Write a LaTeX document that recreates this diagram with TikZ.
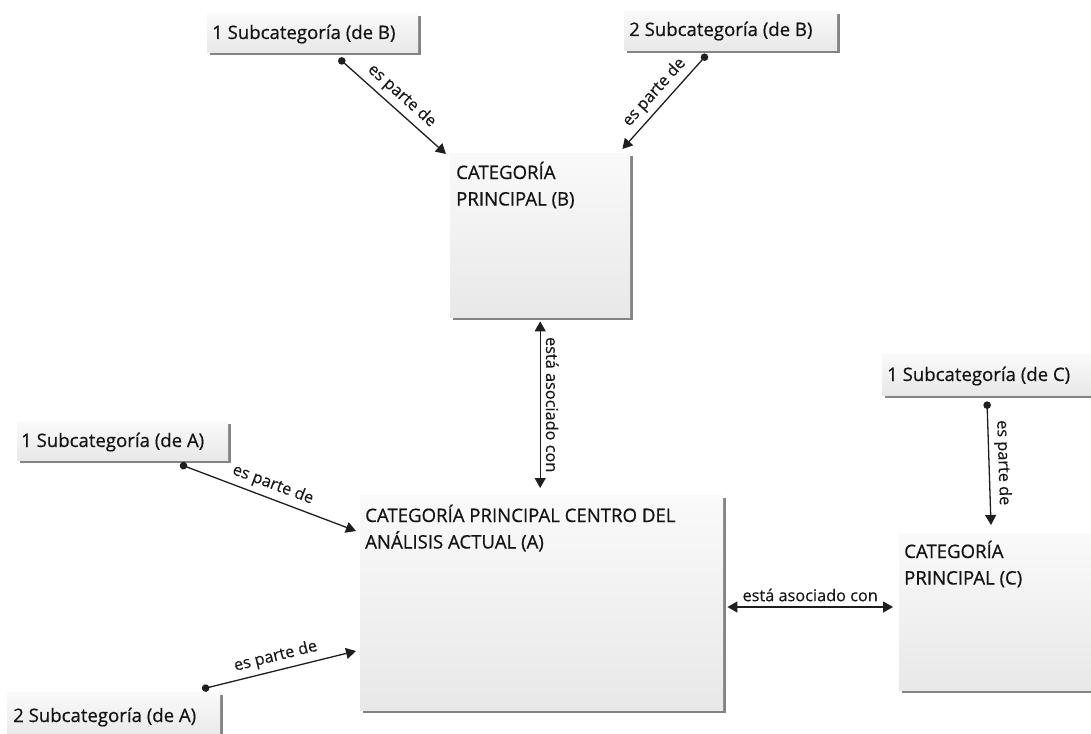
\documentclass[tikz,border=0pt]{standalone}
\usepackage{fontspec}
\setmainfont{Open Sans}
\newfontfamily\heavy{Open Sans}[FakeBold=0.6]
\newfontfamily\lheavy{Open Sans}[FakeBold=0.35]
\usetikzlibrary{arrows.meta,shadows,calc}
\begin{document}
\begin{tikzpicture}[x=1pt,y=-1pt,
 box/.style={rectangle, draw=none, top color=black!2, bottom color=black!9,
   drop shadow={shadow xshift=2.5pt,shadow yshift=-2.5pt,fill=black!60,opacity=0.8},
   inner sep=0pt, anchor=north west},
 subtxt/.style={font=\heavy\fontsize{18.6}{26}\selectfont, text=black!92, anchor=base west, inner sep=0pt},
 maintxt/.style={font=\heavy\fontsize{18.6}{26.5}\selectfont, text=black!92, anchor=base west, inner sep=0pt},
 lbl/.style={font=\lheavy\fontsize{16.3}{20}\selectfont, text=black!90, sloped, above, inner sep=5pt},
 rel/.style={line width=1.3pt, draw=black!88, {Circle[length=7.5pt]}-{Triangle[length=10pt,width=11pt]}},
 assoc/.style={line width=1.3pt, draw=black!88, {Triangle[length=10pt,width=11pt]}-{Triangle[length=10pt,width=11pt]}}]
\useasboundingbox (0,0) rectangle (1091,733);
\fill[white] (0,0) rectangle (1091,733);
\clip (0,0) rectangle (1091,733);

% boxes
\node[box, minimum width=211pt, minimum height=39pt] (b1) at (207,13) {};
\node[box, minimum width=213pt, minimum height=39pt] (b2) at (624,11) {};
\node[box, minimum width=180pt, minimum height=164pt] (B) at (450,153) {};
\node[box, minimum width=211pt, minimum height=39pt] (a1) at (17,421) {};
\node[box, minimum width=363pt, minimum height=215pt] (A) at (360,495) {};
\node[box, minimum width=213pt, minimum height=46pt] (a2) at (7,692) {};
\node[box, minimum width=215pt, minimum height=42pt] (c1) at (882,353) {};
\node[box, minimum width=200pt, minimum height=157pt] (C) at (899,533) {};

% texts
\node[subtxt] (b1t) at (212,39) {1 Subcategoría (de B)};
\node[subtxt] (b2t) at (629,36) {2 Subcategoría (de B)};
\node[subtxt] (a1t) at (21,447) {1 Subcategoría (de A)};
\node[subtxt] (a2t) at (13,722) {2 Subcategoría (de A)};
\node[subtxt] (c1t) at (887,381) {1 Subcategoría (de C)};
\node[maintxt] (Bt) at (456,179) {\begin{tabular}[t]{@{}l@{}}CATEGORÍA\\PRINCIPAL (B)\end{tabular}};
\node[maintxt] (At) at (365,522) {\begin{tabular}[t]{@{}l@{}}CATEGORÍA PRINCIPAL CENTRO DEL\\ANÁLISIS ACTUAL (A)\end{tabular}};
\node[maintxt] (Ct) at (904,558) {\begin{tabular}[t]{@{}l@{}}CATEGORÍA\\PRINCIPAL (C)\end{tabular}};

% connectors
\draw[rel] ($(b1.south west)+(132,6)$) -- node[lbl] {es parte de} ($(B.north west)+(-4,1)$);
\draw[rel] ($(b2.south west)+(83,4)$) -- node[lbl] {es parte de} ($(B.north east)+(-8,-4)$);
\draw[assoc] ($(B.south)+(0,4)$) -- node[lbl] {está asociado con} ($(B.south |- A.north)+(0,-7)$);
\draw[rel] ($(a1.south west)+(163,4)$) -- node[lbl] {es parte de} ($(A.north west)+(-4,36)$);
\draw[rel] ($(a2.north west)+(195,-3)$) -- node[lbl] {es parte de} ($(A.north west)+(-4,156)$);
\draw[assoc] ($(A.north east)+(4,112)$) -- node[lbl] {está asociado con} ($(C.north west)+(-6,74)$);
\draw[rel] ($(c1.south west)+(105,6)$) -- node[lbl] {es parte de} ($(C.north west)+(92,-8)$);
\end{tikzpicture}
\end{document}
